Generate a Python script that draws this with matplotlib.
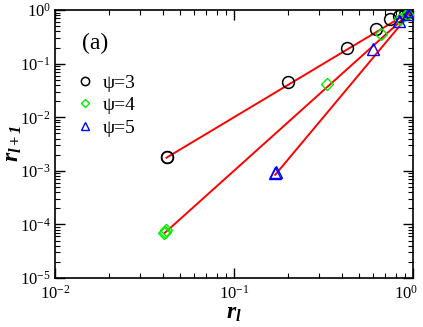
import matplotlib
matplotlib.use("Agg")
import matplotlib.pyplot as plt
import matplotlib.transforms as mtransforms

plt.rcParams['font.family'] = ['Liberation Serif', 'DejaVu Serif']
plt.rcParams['mathtext.fontset'] = 'custom'
plt.rcParams['mathtext.rm'] = 'Liberation Serif'
plt.rcParams['mathtext.it'] = 'Liberation Serif:italic'
plt.rcParams['mathtext.bf'] = 'Liberation Serif:italic:bold'

# psi = 3 (circles)
x3 = [0.042, 0.0425, 0.20, 0.43, 0.62, 0.75, 0.84, 0.90, 0.94, 0.97]
y3 = [0.0018, 0.00185, 0.045, 0.20, 0.45, 0.68, 0.78, 0.86, 0.92, 0.96]
# psi = 4 (diamonds)
x4 = [0.0405, 0.041, 0.0415, 0.33, 0.66, 0.85, 0.93, 0.97]
y4 = [6.8e-5, 7.3e-5, 7.8e-5, 0.041, 0.36, 0.68, 0.83, 0.92]
# psi = 5 (triangles)
x5 = [0.17, 0.172, 0.60, 0.84, 0.94, 0.98]
y5 = [9.3e-4, 9.7e-4, 0.185, 0.62, 0.86, 0.96]

# red guide lines r_{l+1} ~ r_l^(psi-1)
line3_x = [0.042, 1.0]
line3_y = [0.00176, 1.0]
line4_x = [0.041, 1.0]
line4_y = [6.9e-5, 1.0]
line5_x = [0.17, 1.0]
line5_y = [8.4e-4, 1.0]

xticks = [1e-2, 1e-1, 1]
xticklabels = [r'$10^{-2}$', r'$10^{-1}$', r'$10^{0}$']
yticks = [1e-5, 1e-4, 1e-3, 1e-2, 1e-1, 1]
yticklabels = [r'$10^{-5}$', r'$10^{-4}$', r'$10^{-3}$', r'$10^{-2}$', r'$10^{-1}$', r'$10^{0}$']

fig = plt.figure(figsize=(4.23, 3.27), dpi=100)
ax = fig.add_axes([0.130, 0.150, 0.846, 0.819])

ax.plot(line3_x, line3_y, color='red', lw=1.4, zorder=2)
ax.plot(line4_x, line4_y, color='red', lw=1.4, zorder=2)
ax.plot(line5_x, line5_y, color='red', lw=1.4, zorder=2)

ax.plot(x3, y3, 'o', mfc='none', mec='black', ms=8.5, mew=1.1, ls='none', label='ψ=3', zorder=3)
ax.plot(x4, y4, 'D', mfc='none', mec='#00ee00', ms=6.5, mew=1.0, ls='none', label='ψ=4', zorder=3)
ax.plot(x5, y5, '^', mfc='none', mec='blue', ms=8.5, mew=1.0, ls='none', label='ψ=5', zorder=3)

ax.set_xscale('log')
ax.set_yscale('log')
ax.set_xlim(1e-2, 1)
ax.set_ylim(1e-5, 1)
ax.set_xticks(xticks, xticklabels)
ax.set_yticks(yticks, yticklabels)

ax.tick_params(which='both', direction='in', top=True, right=True, labelsize=12)
ax.tick_params(which='major', length=7, width=1)
ax.tick_params(which='minor', length=3.5, width=0.8)
ax.tick_params(axis='x', which='major', pad=5)
ax.tick_params(axis='y', which='major', pad=3)
for s in ax.spines.values():
    s.set_linewidth(1.2)

# nudge the last x tick label so it stays inside the figure
last = ax.get_xticklabels()[-1]
last.set_transform(last.get_transform() + mtransforms.ScaledTranslation(-5 / 72, 0, fig.dpi_scale_trans))

ax.set_xlabel(r'$\mathbf{r_l}$', fontsize=17, labelpad=0)
ax.set_ylabel(r'$\mathbf{r_{l+1}}$', fontsize=17, labelpad=-3)

ax.text(0.075, 0.855, '(a)', transform=ax.transAxes, fontsize=17)
leg = ax.legend(loc='upper left', bbox_to_anchor=(0.04, 0.79), frameon=False,
                fontsize=14, markerscale=0.7, handlelength=0.8, handletextpad=0.5,
                labelspacing=0.25, borderaxespad=0)

fig.savefig('out.png', dpi=100)
